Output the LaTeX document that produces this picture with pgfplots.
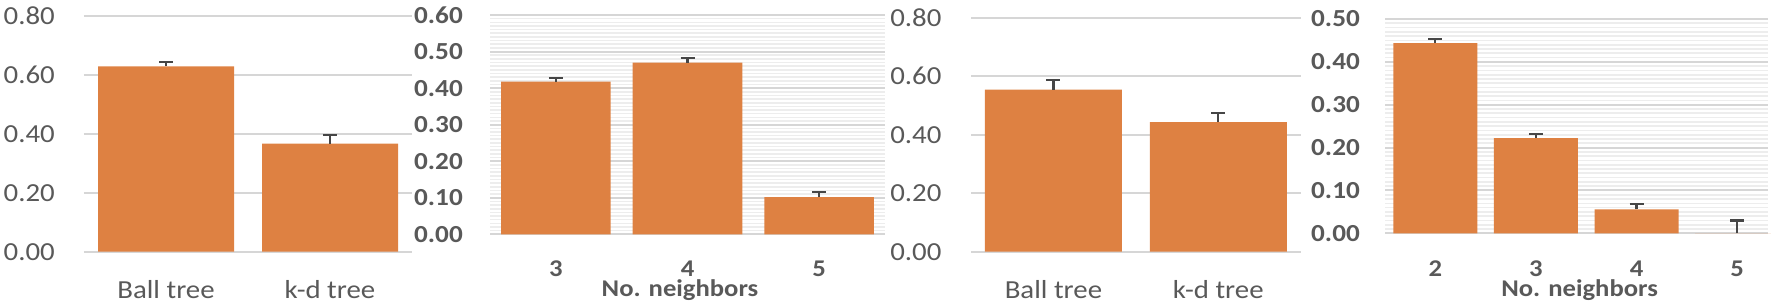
\documentclass[border=0pt]{standalone}
\usepackage{fontspec}
\setmainfont{Carlito}[FakeStretch=1.11]
\usepackage{pgfplots}
\pgfplotsset{compat=1.18}
\definecolor{barorange}{RGB}{222,129,66}
\definecolor{gridgray}{RGB}{214,214,214}
\definecolor{minorgray}{RGB}{237,237,237}
\definecolor{txtgray}{RGB}{89,89,89}
\definecolor{errgray}{RGB}{70,70,70}
\pgfplotsset{
  panel/.style={
    scale only axis,
    axis line style={draw=none},
    major tick length=0pt, minor tick length=0pt,
    ymin=0,
    xtick=data,
    ymajorgrids,
    major grid style={gridgray, line width=2pt},
    /pgf/number format/fixed,
    /pgf/number format/fixed zerofill,
    /pgf/number format/precision=2,
    /pgf/number format/assume math mode=true,
    yticklabel style={anchor=east, inner sep=0pt, text=txtgray},
    xticklabel style={anchor=base, inner sep=0pt, text=txtgray},
    clip=false,
    anchor=south west,
  },
  regfont/.style={
    yticklabel style={font=\fontsize{26}{26}\selectfont},
    xticklabel style={font=\fontsize{26}{26}\selectfont},
  },
  boldfont/.style={
    yticklabel style={font=\fontsize{24.5}{24.5}\selectfont\bfseries},
    xticklabel style={font=\fontsize{24}{24}\selectfont\bfseries},
    xlabel style={font=\fontsize{24}{24}\selectfont\bfseries, text=txtgray, anchor=base, inner sep=0pt},
    yminorgrids,
    minor grid style={minorgray, line width=1.6pt},
  },
  errs/.style={
    fill=barorange, draw=none,
    error bars/.cd, y dir=plus, y explicit,
    error mark=|,
    error bar style={draw=errgray, line width=2.2pt, solid},
    error mark options={draw=errgray, line width=2.2pt, mark size=7pt, solid},
  },
}
\begin{document}
\begin{tikzpicture}
\useasboundingbox (0,0) rectangle (1771pt,306pt);
% Panel 1
\begin{axis}[panel, regfont,
  at={(84pt,54.3pt)},
  width=328pt, height=236pt,
  xmin=-0.5, xmax=1.5, ymax=0.8,
  ytick={0,0.2,0.4,0.6,0.8},
  xticklabels={Ball tree, k-d tree},
  yticklabel style={xshift=-29pt},
  xticklabel style={yshift=-46.6pt},
  ybar, bar width=136pt]
\addplot[errs] coordinates {(0,0.628) +- (0,0.014) (1,0.366) +- (0,0.030)};
\end{axis}
% Panel 2
\begin{axis}[panel, boldfont,
  at={(490pt,71.7pt)},
  width=395pt, height=219.3pt,
  xmin=-0.5, xmax=2.5, ymax=0.6,
  ytick={0,0.1,0.2,0.3,0.4,0.5,0.6},
  minor y tick num=9,
  xticklabels={3,4,5},
  xlabel={No. neighbors},
  xlabel style={at={(rel axis cs:0.481,0)}, yshift=-61.7pt},
  yticklabel style={xshift=-27pt},
  xticklabel style={yshift=-42.4pt},
  ybar, bar width=109.6pt]
\addplot[errs] coordinates {(0,0.418) +- (0,0.010) (1,0.470) +- (0,0.013) (2,0.102) +- (0,0.014)};
\end{axis}
% Panel 3
\begin{axis}[panel, regfont,
  at={(971pt,54.3pt)},
  width=329.7pt, height=234pt,
  xmin=-0.5, xmax=1.5, ymax=0.8,
  ytick={0,0.2,0.4,0.6,0.8},
  xticklabels={Ball tree, k-d tree},
  yticklabel style={xshift=-29.3pt},
  xticklabel style={yshift=-46.6pt},
  ybar, bar width=137pt]
\addplot[errs] coordinates {(0,0.554) +- (0,0.032) (1,0.443) +- (0,0.031)};
\end{axis}
% Panel 4
\begin{axis}[panel, boldfont,
  at={(1385pt,72.7pt)},
  width=383pt, height=214.3pt,
  xmin=-0.5, xmax=3.307, ymax=0.5,
  ytick={0,0.1,0.2,0.3,0.4,0.5},
  minor y tick num=9,
  xticklabels={2,3,4,5},
  xlabel={No. neighbors},
  xlabel style={at={(rel axis cs:0.508,0)}, yshift=-62.7pt},
  yticklabel style={xshift=-25pt},
  xticklabel style={yshift=-42.7pt},
  ybar, bar width=84pt]
\addplot[errs] coordinates {(0,0.4435) +- (0,0.010) (1,0.222) +- (0,0.010) (2,0.0557) +- (0,0.012) (3,0) +- (0,0.030)};
\end{axis}
\end{tikzpicture}
\end{document}
